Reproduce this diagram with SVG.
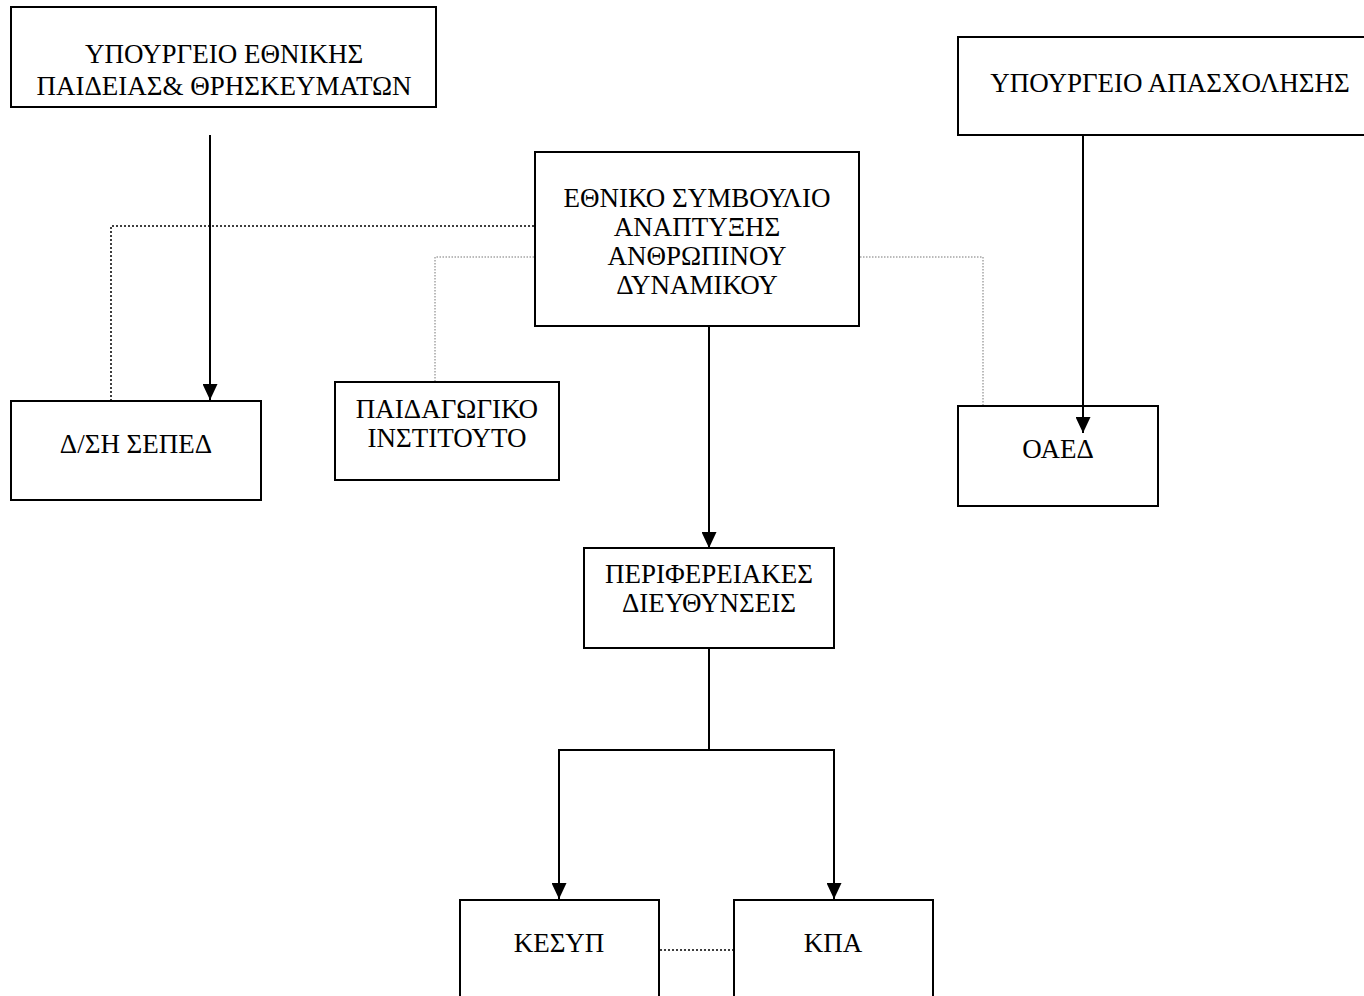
<svg xmlns="http://www.w3.org/2000/svg" width="1364" height="996" viewBox="0 0 1364 996">
<defs>
<style>
.box{fill:#fff;stroke:#000;stroke-width:2}
.t{font-family:"Liberation Serif","Times New Roman",serif;font-size:27px;fill:#000;text-anchor:middle}
.ln{fill:none;stroke:#000;stroke-width:2}
.dot{fill:none;stroke:#000;stroke-width:1.5;stroke-dasharray:2 2}
.dot2{fill:none;stroke:#777;stroke-width:1;stroke-dasharray:1.5 1.5}
</style>
<marker id="ah" viewBox="0 0 10 10" refX="10" refY="5" markerWidth="16" markerHeight="15" markerUnits="userSpaceOnUse" orient="auto" preserveAspectRatio="none">
<path d="M0,0 L10,5 L0,10 z" fill="#000"/>
</marker>
</defs>
<rect width="1364" height="996" fill="#fff"/>
<g id="ypepth">
<rect class="box" x="11" y="7" width="425" height="100"/>
<text class="t" x="224" y="63">ΥΠΟΥΡΓΕΙΟ ΕΘΝΙΚΗΣ</text>
<text class="t" x="224" y="95">ΠΑΙΔΕΙΑΣ&amp; ΘΡΗΣΚΕΥΜΑΤΩΝ</text>
</g>
<g id="ypapasx">
<rect class="box" x="958" y="37" width="425" height="98"/>
<text class="t" x="1170" y="92">ΥΠΟΥΡΓΕΙΟ ΑΠΑΣΧΟΛΗΣΗΣ</text>
</g>
<g id="esaad">
<rect class="box" x="535" y="152" width="324" height="174"/>
<text class="t" x="697" y="207">ΕΘΝΙΚΟ ΣΥΜΒΟΥΛΙΟ</text>
<text class="t" x="697" y="236">ΑΝΑΠΤΥΞΗΣ</text>
<text class="t" x="697" y="265">ΑΝΘΡΩΠΙΝΟΥ</text>
<text class="t" x="697" y="294">ΔΥΝΑΜΙΚΟΥ</text>
</g>
<g id="sepaed">
<rect class="box" x="11" y="401" width="250" height="99"/>
<text class="t" x="136" y="453">Δ/ΣΗ ΣΕΠΕΔ</text>
</g>
<g id="pi">
<rect class="box" x="335" y="382" width="224" height="98"/>
<text class="t" x="447" y="418">ΠΑΙΔΑΓΩΓΙΚΟ</text>
<text class="t" x="447" y="447">ΙΝΣΤΙΤΟΥΤΟ</text>
</g>
<g id="oaed">
<rect class="box" x="958" y="406" width="200" height="100"/>
<text class="t" x="1058" y="458">ΟΑΕΔ</text>
</g>
<g id="perif">
<rect class="box" x="584" y="548" width="250" height="100"/>
<text class="t" x="709" y="583">ΠΕΡΙΦΕΡΕΙΑΚΕΣ</text>
<text class="t" x="709" y="612">ΔΙΕΥΘΥΝΣΕΙΣ</text>
</g>
<g id="kesyp">
<rect class="box" x="460" y="900" width="199" height="110"/>
<text class="t" x="559" y="952">ΚΕΣΥΠ</text>
</g>
<g id="kpa">
<rect class="box" x="734" y="900" width="199" height="110"/>
<text class="t" x="833" y="952">ΚΠΑ</text>
</g>
<g id="connectors">
<path class="dot" d="M534,226 H111 V400"/>
<path class="dot2" d="M534,257 H435 V381"/>
<path class="dot2" d="M860,257 H983 V405"/>
<path class="dot" d="M660,950 H733"/>
<path class="ln" d="M210,135 V400" marker-end="url(#ah)"/>
<path class="ln" d="M1083,136 V433" marker-end="url(#ah)"/>
<path class="ln" d="M709,326 V548" marker-end="url(#ah)"/>
<path class="ln" d="M709,648 V750 M558,750 H835"/>
<path class="ln" d="M559,749 V899" marker-end="url(#ah)"/>
<path class="ln" d="M834,749 V899" marker-end="url(#ah)"/>
</g>
</svg>
